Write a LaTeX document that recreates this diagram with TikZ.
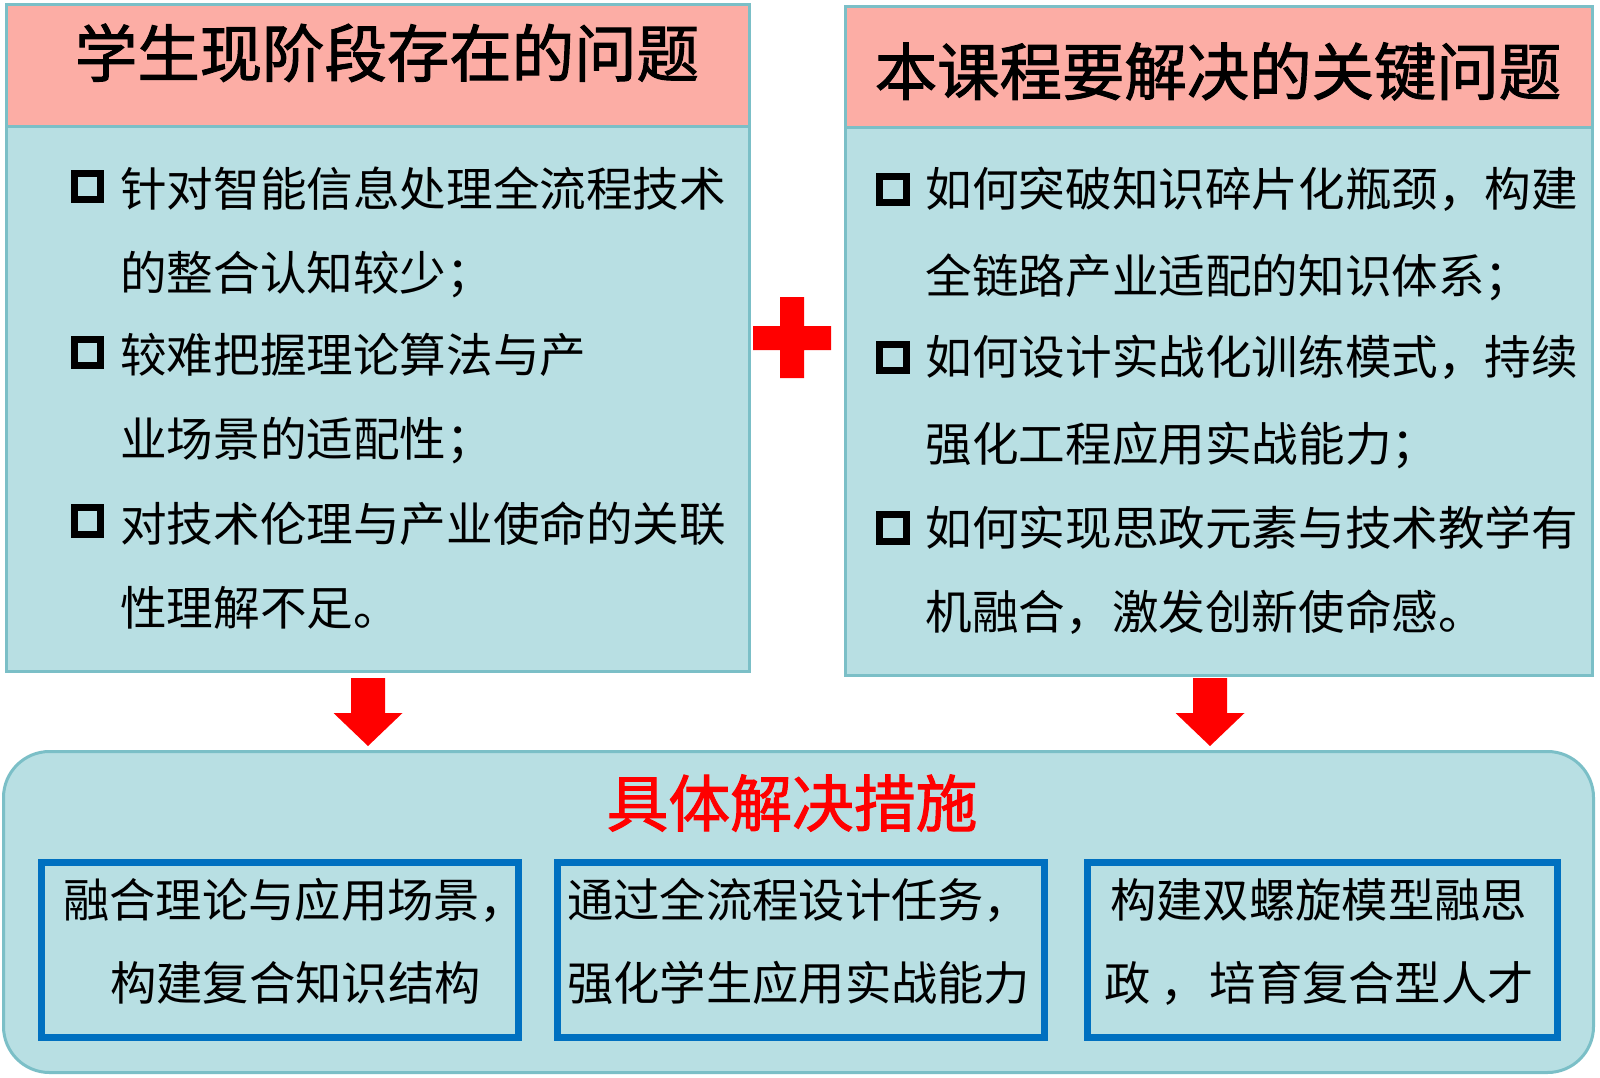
\documentclass[tikz,border=0pt]{standalone}
\usepackage{fontspec}
\usetikzlibrary{calc}
\newfontfamily\cjk{Noto Sans CJK SC}
\newfontfamily\cjkb[FakeBold=1.6]{Noto Sans CJK SC}
\definecolor{bodyblue}{HTML}{B8DFE3}
\definecolor{edgeteal}{HTML}{7BBFC7}
\definecolor{headpink}{HTML}{FCADA5}
\definecolor{boxblue}{HTML}{0070C0}
\definecolor{markred}{HTML}{FF0000}
\begin{document}
\begin{tikzpicture}[x=1pt,y=-1pt,
  panel/.style={draw=edgeteal, fill=bodyblue, line width=3pt, inner sep=0pt, outer sep=0pt, anchor=north west},
  headbox/.style={draw=edgeteal, fill=headpink, line width=3pt, inner sep=0pt, outer sep=0pt, anchor=north west},
  bigpanel/.style={draw=edgeteal, fill=bodyblue, line width=3pt, inner sep=0pt, outer sep=0pt, anchor=north west, rounded corners=46pt},
  bluebox/.style={draw=boxblue, fill=bodyblue, line width=7pt, inner sep=0pt, outer sep=0pt, anchor=north west},
  chk/.style={draw=black, line width=7pt, minimum size=26.5pt, inner sep=0pt, outer sep=0pt},
  bodytxt/.style={anchor=base west, inner sep=0pt, font=\cjk\fontsize{46.6}{56}\selectfont},
  boxtxt/.style={anchor=base west, inner sep=0pt, font=\cjk\fontsize{46.3}{56}\selectfont},
  headtxt/.style={anchor=base, inner sep=0pt, font=\cjkb\fontsize{62.4}{70}\selectfont},
  redshape/.style={fill=markred, draw=none}
]
\useasboundingbox (0,0) rectangle (1600,1078);
\fill[white] (0,0) rectangle (1600,1078);

% left panel
\node[panel, minimum width=743pt, minimum height=667pt] (L) at (6.5,4.5) {};
\node[headbox, minimum width=743pt, minimum height=122pt] (LH) at (6.5,4.5) {};
\node[headtxt] (LT) at (387,76.7) {学生现阶段存在的问题};

% right panel
\node[panel, minimum width=747pt, minimum height=669pt] (R) at (845.5,6.5) {};
\node[headbox, minimum width=747pt, minimum height=121pt] (RH) at (845.5,6.5) {};
\node[headtxt] (RT) at (1218,95) {本课程要解决的关键问题};

% left items
\node[chk] (lc1) at (87.7,186.3) {};
\node[bodytxt] (l1) at (120,206.7) {针对智能信息处理全流程技术};
\node[bodytxt] (l2) at (120,290.2) {的整合认知较少；};
\node[chk] (lc2) at (87.7,352.3) {};
\node[bodytxt] (l3) at (120,372.7) {较难把握理论算法与产};
\node[bodytxt] (l4) at (120,456.7) {业场景的适配性；};
\node[chk] (lc3) at (87.7,520.8) {};
\node[bodytxt] (l5) at (120,541.2) {对技术伦理与产业使命的关联};
\node[bodytxt] (l6) at (120,625.7) {性理解不足。};

% right items
\node[chk] (rc1) at (893,189.5) {};
\node[bodytxt] (r1) at (925.5,206.7) {如何突破知识碎片化瓶颈，构建};
\node[bodytxt] (r2) at (925.5,293.2) {全链路产业适配的知识体系；};
\node[chk] (rc2) at (893,357.5) {};
\node[bodytxt] (r3) at (925.5,374.7) {如何设计实战化训练模式，持续};
\node[bodytxt] (r4) at (925.5,461.7) {强化工程应用实战能力；};
\node[chk] (rc3) at (893,528) {};
\node[bodytxt] (r5) at (925.5,545.2) {如何实现思政元素与技术教学有};
\node[bodytxt] (r6) at (925.5,629.7) {机融合，激发创新使命感。};

% plus sign
\fill[redshape] (780,297) -- (804,297) -- (804,326) -- (831,326) -- (831,350)
  -- (804,350) -- (804,378) -- (780,378) -- (780,350) -- (753,350) -- (753,326)
  -- (780,326) -- cycle;

% bottom panel
\node[bigpanel, minimum width=1590pt, minimum height=321pt] (B) at (3.5,751.5) {};
\node[anchor=base, inner sep=0pt, text=markred, font=\cjkb\fontsize{61.8}{70}\selectfont] (BT) at (792,826.5) {具体解决措施};

% arrows
\coordinate (la) at (368,678);
\coordinate (ra) at (1210,678);
\foreach \c in {la,ra}{
  \fill[redshape] ($(\c)+(-17,0)$) -- ($(\c)+(17,0)$) -- ($(\c)+(17,35)$) -- ($(\c)+(34.5,35)$)
    -- ($(\c)+(0,68)$) -- ($(\c)+(-34.5,35)$) -- ($(\c)+(-17,35)$) -- cycle;
}

% measure boxes
\node[bluebox, minimum width=477pt, minimum height=175pt] (M1) at (41.5,862.5) {};
\node[bluebox, minimum width=487pt, minimum height=175pt] (M2) at (557.5,862.5) {};
\node[bluebox, minimum width=470pt, minimum height=175pt] (M3) at (1087.5,862.5) {};

\node[boxtxt] (m11) at (63,917.6) {融合理论与应用场景，};
\node[boxtxt] (m12) at (110,1000.6) {构建复合知识结构};
\node[boxtxt] (m21) at (567,917.6) {通过全流程设计任务，};
\node[boxtxt] (m22) at (567,1000.6) {强化学生应用实战能力};
\node[boxtxt] (m31) at (1110,917.6) {构建双螺旋模型融思};
\node[boxtxt] (m32) at (1104,1000.6) {政\hspace{10pt}，\hspace{3pt}培育复合型人才};
\end{tikzpicture}
\end{document}
